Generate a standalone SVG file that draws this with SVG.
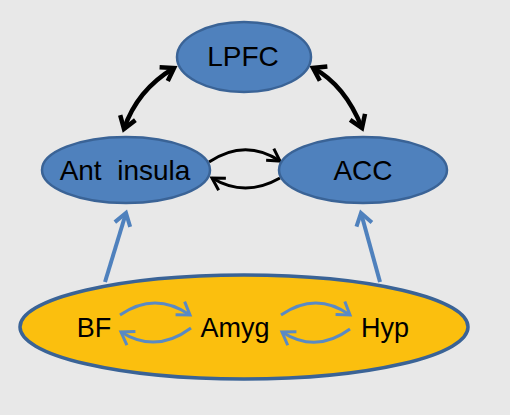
<svg xmlns="http://www.w3.org/2000/svg" width="510" height="415" viewBox="0 0 510 415">
<defs>
<style>
.bg{fill:#e8e8e8}
.node ellipse.b{fill:#4f81bd;stroke:#3a6396;stroke-width:2.5}
.node ellipse.y{fill:#fbbf0e;stroke:#3a6396;stroke-width:3.5}
.lbl{font-family:"Liberation Sans",Arial,sans-serif;font-size:28px;fill:#000;text-anchor:middle}
.sm{font-size:27px}
.k4{fill:none;stroke:#000;stroke-width:4.5}
.k3{fill:none;stroke:#000;stroke-width:3}
.bl4{fill:none;stroke:#4f81bd;stroke-width:4}
.bl3{fill:none;stroke:#5a8ac4;stroke-width:3}
</style>
<marker id="hk4" markerUnits="userSpaceOnUse" orient="auto-start-reverse" overflow="visible" markerWidth="1" markerHeight="1" refX="0" refY="0">
<path d="M-12,-8 L0,0 L-12,8" fill="none" stroke="#000" stroke-width="4.5" stroke-linejoin="miter"/>
</marker>
<marker id="hk3" markerUnits="userSpaceOnUse" orient="auto" overflow="visible" markerWidth="1" markerHeight="1" refX="0" refY="0">
<path d="M-12,-7 L0,0 L-12,7" fill="none" stroke="#000" stroke-width="3"/>
</marker>
<marker id="hb4" markerUnits="userSpaceOnUse" orient="auto" overflow="visible" markerWidth="1" markerHeight="1" refX="0" refY="0">
<path d="M-12,-8 L0,0 L-12,8" fill="none" stroke="#4f81bd" stroke-width="4"/>
</marker>
<marker id="hb3" markerUnits="userSpaceOnUse" orient="auto" overflow="visible" markerWidth="1" markerHeight="1" refX="0" refY="0">
<path d="M-12,-8 L0,0 L-12,8" fill="none" stroke="#5a8ac4" stroke-width="3"/>
</marker>
</defs>
<rect class="bg" x="0" y="0" width="510" height="415"/>
<g id="connectors">
<path class="k4" d="M124,129 Q137,90 174,68" marker-start="url(#hk4)" marker-end="url(#hk4)"/>
<path class="k4" d="M313,68 Q345,85 362,128" marker-start="url(#hk4)" marker-end="url(#hk4)"/>
<path class="k3" d="M209,162 Q245,138 280,161" marker-end="url(#hk3)"/>
<path class="k3" d="M280,178 Q245,198 212,178" marker-end="url(#hk3)"/>
<path class="bl4" d="M105,282 L126,213" marker-end="url(#hb4)"/>
<path class="bl4" d="M380,282 L361,213" marker-end="url(#hb4)"/>
</g>
<g id="LPFC" class="node"><ellipse class="b" cx="244" cy="57" rx="67" ry="35"/><text class="lbl" x="243" y="66">LPFC</text></g>
<g id="AntInsula" class="node"><ellipse class="b" cx="126" cy="170" rx="84" ry="33"/><text class="lbl" x="125" y="180" xml:space="preserve">Ant  insula</text></g>
<g id="ACC" class="node"><ellipse class="b" cx="363" cy="170" rx="84" ry="33"/><text class="lbl" x="363" y="180">ACC</text></g>
<g id="Subcortical" class="node"><ellipse class="y" cx="244" cy="327" rx="224" ry="52"/>
<text class="lbl sm" x="94" y="337">BF</text>
<text class="lbl sm" x="235" y="337">Amyg</text>
<text class="lbl sm" x="385" y="337">Hyp</text>
</g>
<g id="inner-connectors">
<path class="bl3" d="M120,315 Q155,291 190,315" marker-end="url(#hb3)"/>
<path class="bl3" d="M191,328 Q156,354 121,332" marker-end="url(#hb3)"/>
<path class="bl3" d="M281,315 Q316,291 350,315" marker-end="url(#hb3)"/>
<path class="bl3" d="M350,329 Q316,354 282,332" marker-end="url(#hb3)"/>
</g>
</svg>
